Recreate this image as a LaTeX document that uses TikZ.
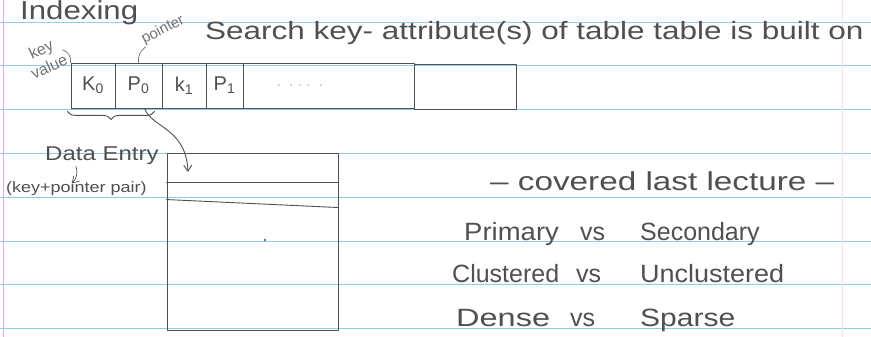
\documentclass[tikz,border=0pt]{standalone}
\usepackage{fontspec}
\setmainfont{Liberation Sans}
\usetikzlibrary{decorations.pathreplacing,arrows.meta,calc}
\definecolor{pencil}{RGB}{80,80,80}
\definecolor{softpencil}{RGB}{115,115,115}
\definecolor{rule}{RGB}{140,205,238}
\definecolor{margin}{RGB}{232,170,225}
\definecolor{inkdot}{RGB}{40,60,200}
% widen handwriting-like text horizontally
\newcommand\stretchx[2]{\scalebox{#1}[1]{#2}}

\begin{document}
\begin{tikzpicture}[x=1pt,y=-1pt,
  pen/.style={draw=pencil, line width=0.9pt, line cap=round, line join=round},
  hand/.style={text=pencil, inner sep=0pt, anchor=base west},
  note/.style={text=softpencil, inner sep=0pt, align=center,
    font=\fontsize{16}{19}\selectfont},
  cell/.style={pen, minimum height=45pt, inner sep=0pt, text=pencil,
    font=\fontsize{20}{22}\selectfont},
  big/.style={font=\fontsize{25}{28}\selectfont},
  mid/.style={font=\fontsize{20}{22}\selectfont},
  tip/.style={-{Straight Barb[length=6pt,width=8pt]}}
]
% page and ruled lines
\useasboundingbox (0,0) rectangle (871,337);
\fill[white] (0,0) rectangle (871,337);
\foreach \ry in {22,65,109,153,197,241,284,328}
  \draw[rule, line width=0.8pt] (0,\ry) -- (871,\ry);
\draw[margin, line width=0.8pt] (3,0) -- (3,337);
\draw[margin!40, line width=0.6pt] (842,0) -- (842,337);

% heading
\node[hand, font=\fontsize{26}{28}\selectfont] (title) at (20,20) {\stretchx{1.2}{Indexing}};
\node[hand, big] (search) at (205,40) {\stretchx{1.26}{Search key- attribute(s) of table table is built on}};

% index entries row
\node[cell, minimum width=44pt] (k0) at (93,85.5) {K\textsubscript{0}};
\node[cell, minimum width=47pt] (p0) at (138.5,85.5) {P\textsubscript{0}};
\node[cell, minimum width=44pt] (k1) at (184,85.5) {k\textsubscript{1}};
\node[cell, minimum width=37pt] (p1) at (224.5,85.5) {P\textsubscript{1}};
\node[cell, minimum width=171pt] (gap) at (328.5,85.5) {};
\node[cell, minimum width=102pt] (last) at (465,86.5) {};
\node[text=pencil!45, inner sep=0pt, font=\fontsize{14}{14}\selectfont] (dots) at (300,87)
  {\textperiodcentered\ \ \textperiodcentered\ \textperiodcentered\ \textperiodcentered\ \ \textperiodcentered};

% side labels for the row
\node[note, rotate=25] (kv) at (45,58) {key\\value};
\node[note, rotate=27, font=\fontsize{15}{17}\selectfont] (ptr) at (163,30) {pointer};
\draw[pen, draw=softpencil, line width=0.7pt] (kv.east) to[bend left=40] (k0.north west);
\draw[pen, draw=softpencil, line width=0.7pt] (ptr.south west) to[bend right=30] (p0.north);

% one entry = key + pointer
\draw[pen, decorate, decoration={brace, mirror, amplitude=8pt, aspect=0.5}]
  ($(k0.south west)+(-3,3)$) -- ($(p0.south east)+(-8,3)$);
\node[hand, mid] (de) at (45,160) {\stretchx{1.2}{Data Entry}};
\node[hand, font=\fontsize{15}{16}\selectfont] (kp) at (6,192) {\stretchx{1.2}{(key+pointer pair)}};
\coordinate (dtop) at ($(de.south west)+(31,2)$);
\coordinate (dbot) at ($(de.south west)+(27,19)$);
\draw[pen, line width=0.7pt, tip] (dtop) to[bend left=30] (dbot);

% data file
\node[pen, minimum width=171pt, minimum height=177pt, inner sep=0pt] (data) at (252.5,241.5) {};
\draw[pen] ($(data.north west)+(0,30)$) -- ($(data.north east)+(0,30)$);
\draw[pen] ($(data.north west)+(0,47)$) -- ($(data.north east)+(0,55)$);
\fill[inkdot] (265,240) circle (1.1pt);
\coordinate (entry) at (188,172);
\draw[pen, tip] ($(p0.south)+(6,0)$) .. controls (152,128) and (186,128) .. (entry);

% index properties
\node[hand, font=\fontsize{26}{28}\selectfont] (cov) at (490,190) {\stretchx{1.28}{-- covered last lecture --}};
\node[hand, big] (a1) at (464,240) {\stretchx{1.1}{Primary}};
\node[hand, big] (a2) at (580,240) {vs};
\node[hand, big] (a3) at (640,240) {Secondary};
\node[hand, big] (b1) at (452,282) {Clustered};
\node[hand, big] (b2) at (576,282) {vs};
\node[hand, big] (b3) at (640,282) {\stretchx{1.08}{Unclustered}};
\node[hand, big] (c1) at (456,326) {\stretchx{1.3}{Dense}};
\node[hand, big] (c2) at (570,326) {vs};
\node[hand, big] (c3) at (640,326) {\stretchx{1.2}{Sparse}};
\end{tikzpicture}
\end{document}
